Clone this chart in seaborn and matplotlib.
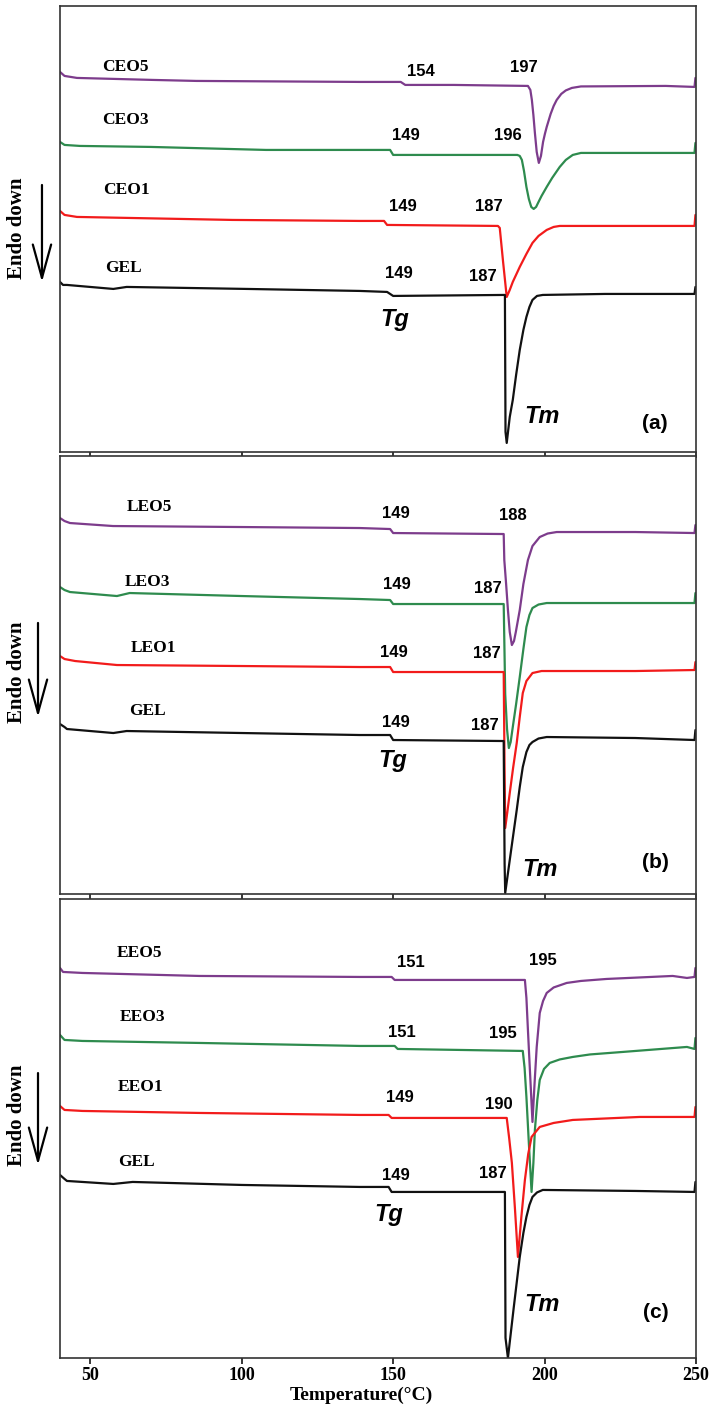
import numpy as np
import pandas as pd
import seaborn as sns
import matplotlib.pyplot as plt

# DSC thermograms, values (arbitrary heat-flow offset units)
# panel (a) - CEO
ceo5_t = [40, 41.5, 45.6, 70.7, 85, 139, 152.5, 154, 170, 194.5, 195.3, 195.8, 196.3, 196.8, 197.4, 198.1, 198.8,
          199.5, 200.1, 200.7, 202, 203, 204, 205.5, 207, 209, 212, 240, 249.5, 249.8]
ceo5_y = [380, 376, 374, 372, 371, 370, 370, 367, 367, 366, 362, 352, 337, 319, 300, 289, 296,
          310, 318, 325, 338, 346, 352, 358, 361.5, 364, 365.5, 366, 365, 374]
ceo3_t = [40, 41.5, 46.6, 70, 108, 149, 150, 170, 191, 191.8, 192.5, 193.2, 194, 194.8, 195.6, 196.4, 197.2, 198,
          199, 200.7, 202.5, 205, 207, 209.3, 212, 249.5, 249.8]
ceo3_y = [310, 307, 306, 305, 302, 302, 297, 297, 297, 296, 292, 281, 265, 253, 245, 243, 245, 250,
          256, 265, 274, 285, 292, 297, 299, 299, 309]
ceo1_t = [40, 41.5, 45.6, 97, 139, 147, 148, 184.6, 185.2, 186.3, 187.5, 188.5, 189.5, 191.8, 194, 196, 198,
          200.7, 203, 205, 230, 249.5, 249.8]
ceo1_y = [241, 237, 235, 232, 231, 231, 227, 226, 224, 190, 155, 162, 170, 185, 198, 209, 216,
          222, 225, 226, 226, 226, 237]
gel_a_t = [40, 41, 42.3, 57.6, 62, 101.7, 139, 148, 150, 186.9, 187.1, 187.5, 188.5, 189.5, 190.6, 191.8, 193,
           194, 195, 196, 197.5, 199.4, 220, 249.5, 249.8]
gel_a_y = [170, 167, 167, 163, 165, 163, 161, 160, 156, 157, 20, 9, 35, 52, 77, 102, 122,
           135, 145, 152, 156, 157, 158, 158, 165]

# panel (b) - LEO
leo5_t = [40, 41.5, 43.3, 57.5, 100, 139, 149, 150, 186.5, 186.7, 187.3, 187.9, 188.5, 189.2, 189.9, 190.5,
          191.8, 193, 194.5, 196, 198.4, 201, 204, 230, 249.5, 249.8]
leo5_y = [376, 373, 371, 368, 367, 366, 365, 361, 360, 334, 310, 284, 262, 249, 253, 262,
          284, 310, 334, 348, 357, 360.5, 362, 362, 361, 369]
leo3_t = [40, 41.5, 43.3, 58.8, 63, 100, 139, 149, 150, 186.5, 187, 187.6, 188.2, 188.8, 189.5, 190.6, 191.8,
          193, 194, 195, 196, 198, 200.7, 230, 249.5, 249.8]
leo3_y = [307, 304, 302, 298, 301, 298, 295, 294, 290, 290, 200, 165, 146, 152, 167, 190, 217,
          245, 267, 279, 286, 289.5, 291, 291, 291, 301]
leo1_t = [40, 41.5, 45, 58.8, 100, 139, 149, 150, 186.5, 186.8, 187, 187.7, 188.5, 189.6, 190.8, 191.8, 192.8,
          194, 196, 199, 230, 249.5, 249.8]
leo1_y = [238, 235, 233, 229, 228, 227, 227, 222, 222, 120, 66, 82, 101, 126, 151, 177, 201,
          213, 221, 223, 223, 224, 232]
gel_b_t = [40, 41.5, 42.3, 57.6, 62, 100, 139, 149, 150, 186.5, 186.8, 187, 188.5, 189.6, 190.8, 191.8, 192.8,
           194, 195, 196, 198, 200.7, 230, 249.5, 249.8]
gel_b_y = [170, 167, 165, 161, 163, 161, 159, 159, 154, 153, 30, 1, 34, 58, 84, 107, 127,
           142, 149, 152, 155.5, 157, 156, 154, 164]

# panel (c) - EEO
eeo5_t = [40, 41, 47.4, 86, 139, 149.5, 150.5, 193.5, 194, 194.5, 195.2, 196, 196.7, 197.4, 198.4, 199.5,
          200.7, 203, 207.3, 212, 220.5, 242.3, 247, 249.5, 249.8]
eeo5_y = [390, 386, 385, 382, 381, 381, 378, 378, 360, 328, 285, 236, 275, 311, 345, 357,
          365, 370.5, 375, 377, 379, 382, 380, 381, 390]
eeo3_t = [40, 41.5, 47.4, 86, 139, 150.5, 151.5, 192.8, 193.4, 194, 194.8, 195.7, 196.3, 196.8, 197.6, 198.4,
          199.8, 201.7, 205, 209.3, 215, 225.8, 247, 249.5, 249.8]
eeo3_y = [323, 318, 317, 315, 312, 312, 309, 307, 290, 261, 215, 166, 195, 228, 258, 278,
          289, 295, 298.5, 301, 303.5, 306, 311, 309, 320]
eeo1_t = [40, 41.5, 47.4, 86, 139, 148.5, 149.5, 187.5, 188.3, 189.2, 190.2, 191.2, 192.3, 193.5, 194.6, 195.7,
          198.4, 203, 209.3, 231.4, 249.5, 249.8]
eeo1_y = [252, 248, 247, 245, 243, 243, 240, 240, 220, 195, 150, 101, 140, 178, 204, 221,
          231, 235, 238, 241, 241, 251]
gel_c_t = [40, 41.5, 42.3, 57.6, 64, 100, 139, 148.5, 149.5, 186.9, 187.1, 187.9, 189.8, 191.8, 193, 194, 195,
           196, 197.5, 199.4, 230, 249.5, 249.8]
gel_c_y = [183, 179, 177, 174, 176, 173, 171, 171, 166, 166, 20, 0, 50, 101, 125, 141, 153,
           161, 165.5, 168, 167, 166, 176]

series_colors = {"5": "#7d3c8c", "3": "#2e8b4e", "1": "#f21b1b", "GEL": "#111111"}

panels = [
    dict(tag="(a)", ylim=446, box=[0.0846, 0.6797, 0.8971, 0.3161],
         curves=[("CEO5", ceo5_t, ceo5_y, "5"), ("CEO3", ceo3_t, ceo3_y, "3"),
                 ("CEO1", ceo1_t, ceo1_y, "1"), ("GEL", gel_a_t, gel_a_y, "GEL")],
         names=[(61.5, 385), (61.5, 332), (62, 262), (60.8, 184)],
         tg_vals=["154", "149", "149", "149"], tg_pos=[(159.1, 380), (154.2, 316), (153.2, 245), (151.9, 178)],
         tm_vals=["197", "196", "187", "187"], tm_pos=[(193.1, 384), (187.9, 316), (181.6, 245), (179.6, 175)],
         tg=(150.6, 132), tm=(199, 35), tagpos=(236.4, 28),
         arrow=(0.0592, 0.8689, 0.8001), endo=(0.024, 0.8384)),
    dict(tag="(b)", ylim=438, box=[0.0846, 0.3664, 0.8971, 0.3104],
         curves=[("LEO5", leo5_t, leo5_y, "5"), ("LEO3", leo3_t, leo3_y, "3"),
                 ("LEO1", leo1_t, leo1_y, "1"), ("GEL", gel_b_t, gel_b_y, "GEL")],
         names=[(69.4, 387), (69, 312), (70.7, 246), (68.8, 183)],
         tg_vals=["149", "149", "149", "149"], tg_pos=[(150.9, 381), (151.2, 310), (150.2, 242), (150.9, 172)],
         tm_vals=["188", "187", "187", "187"], tm_pos=[(189.5, 379), (181.3, 306), (181, 241), (180.3, 169)],
         tg=(149.9, 134), tm=(198.4, 25), tagpos=(236.7, 32),
         arrow=(0.0536, 0.5585, 0.4918), endo=(0.024, 0.5237)),
    dict(tag="(c)", ylim=459, box=[0.0846, 0.0376, 0.8971, 0.3253],
         curves=[("EEO5", eeo5_t, eeo5_y, "5"), ("EEO3", eeo3_t, eeo3_y, "3"),
                 ("EEO1", eeo1_t, eeo1_y, "1"), ("GEL", gel_c_t, gel_c_y, "GEL")],
         names=[(66.4, 405), (67.2, 341), (66.7, 271), (65.4, 196)],
         tg_vals=["151", "151", "149", "149"], tg_pos=[(155.8, 395), (152.9, 325), (152.2, 260), (150.9, 182)],
         tm_vals=["195", "195", "190", "187"], tm_pos=[(199.4, 397), (186.2, 324), (184.9, 253), (182.9, 184)],
         tg=(148.6, 143), tm=(199, 53), tagpos=(236.7, 45),
         arrow=(0.0536, 0.2395, 0.1743), endo=(0.024, 0.2098)),
]

sns.set_style("ticks")
plt.rcParams['font.family'] = ['Liberation Serif', 'DejaVu Serif']
plt.rcParams['text.color'] = 'black'

fig = plt.figure(figsize=(7.09, 14.11), dpi=100)
serif = dict(family=['Liberation Serif', 'DejaVu Serif'], weight='bold', color='black')
sans = dict(family=['Liberation Sans', 'DejaVu Sans'], weight='bold', color='black')

for i, p in enumerate(panels):
    ax = fig.add_axes(p["box"])
    for name, t, y, key in p["curves"]:
        df = pd.DataFrame({"T": t, "H": y})
        sns.lineplot(data=df, x="T", y="H", ax=ax, color=series_colors[key],
                     lw=1.6, sort=False, estimator=None)
    for (name, _, _, _), (tx, ty) in zip(p["curves"], p["names"]):
        ax.text(tx, ty, name, ha='center', va='center', fontsize=12.5, **serif)
    for v, (tx, ty) in zip(p["tg_vals"], p["tg_pos"]):
        ax.text(tx, ty, v, ha='center', va='center', fontsize=12, **sans)
    for v, (tx, ty) in zip(p["tm_vals"], p["tm_pos"]):
        ax.text(tx, ty, v, ha='center', va='center', fontsize=12, **sans)
    ax.text(*p["tg"], "Tg", ha='center', va='center', fontsize=17, style='italic', **sans)
    ax.text(*p["tm"], "Tm", ha='center', va='center', fontsize=17, style='italic', **sans)
    ax.text(*p["tagpos"], p["tag"], ha='center', va='center', fontsize=15, **sans)

    ax.set_xlim(40, 250)
    ax.set_ylim(0, p["ylim"])
    ax.set_xticks([50, 100, 150, 200, 250])
    ax.set_yticks([])
    ax.set_xlabel("")
    ax.set_ylabel("")
    ax.tick_params(axis='x', direction='out', length=4.5, width=1.1, pad=2,
                   labelsize=13, colors='black')
    if i < 2:
        ax.set_xticklabels([])
    else:
        for lab in ax.get_xticklabels():
            lab.set_fontweight('bold')
    for sp in ax.spines.values():
        sp.set_visible(True)
        sp.set_linewidth(1.2)
        sp.set_color('#333333')

    ax_x, y0, y1 = p["arrow"]
    ax.annotate('', xy=(ax_x, y1), xytext=(ax_x, y0), xycoords='figure fraction',
                textcoords='figure fraction', annotation_clip=False,
                arrowprops=dict(arrowstyle='->,head_length=0.8,head_width=0.22',
                                lw=1.6, color='black', mutation_scale=30,
                                shrinkA=0, shrinkB=0))
    fig.text(p["endo"][0], p["endo"][1], "Endo down", rotation=90, ha='center',
             va='center', fontsize=15, **serif)

fig.text(0.509, 0.0113, "Temperature(\u00b0C)", ha='center', va='center', fontsize=14, **serif)

plt.savefig("out.png", dpi=100)
